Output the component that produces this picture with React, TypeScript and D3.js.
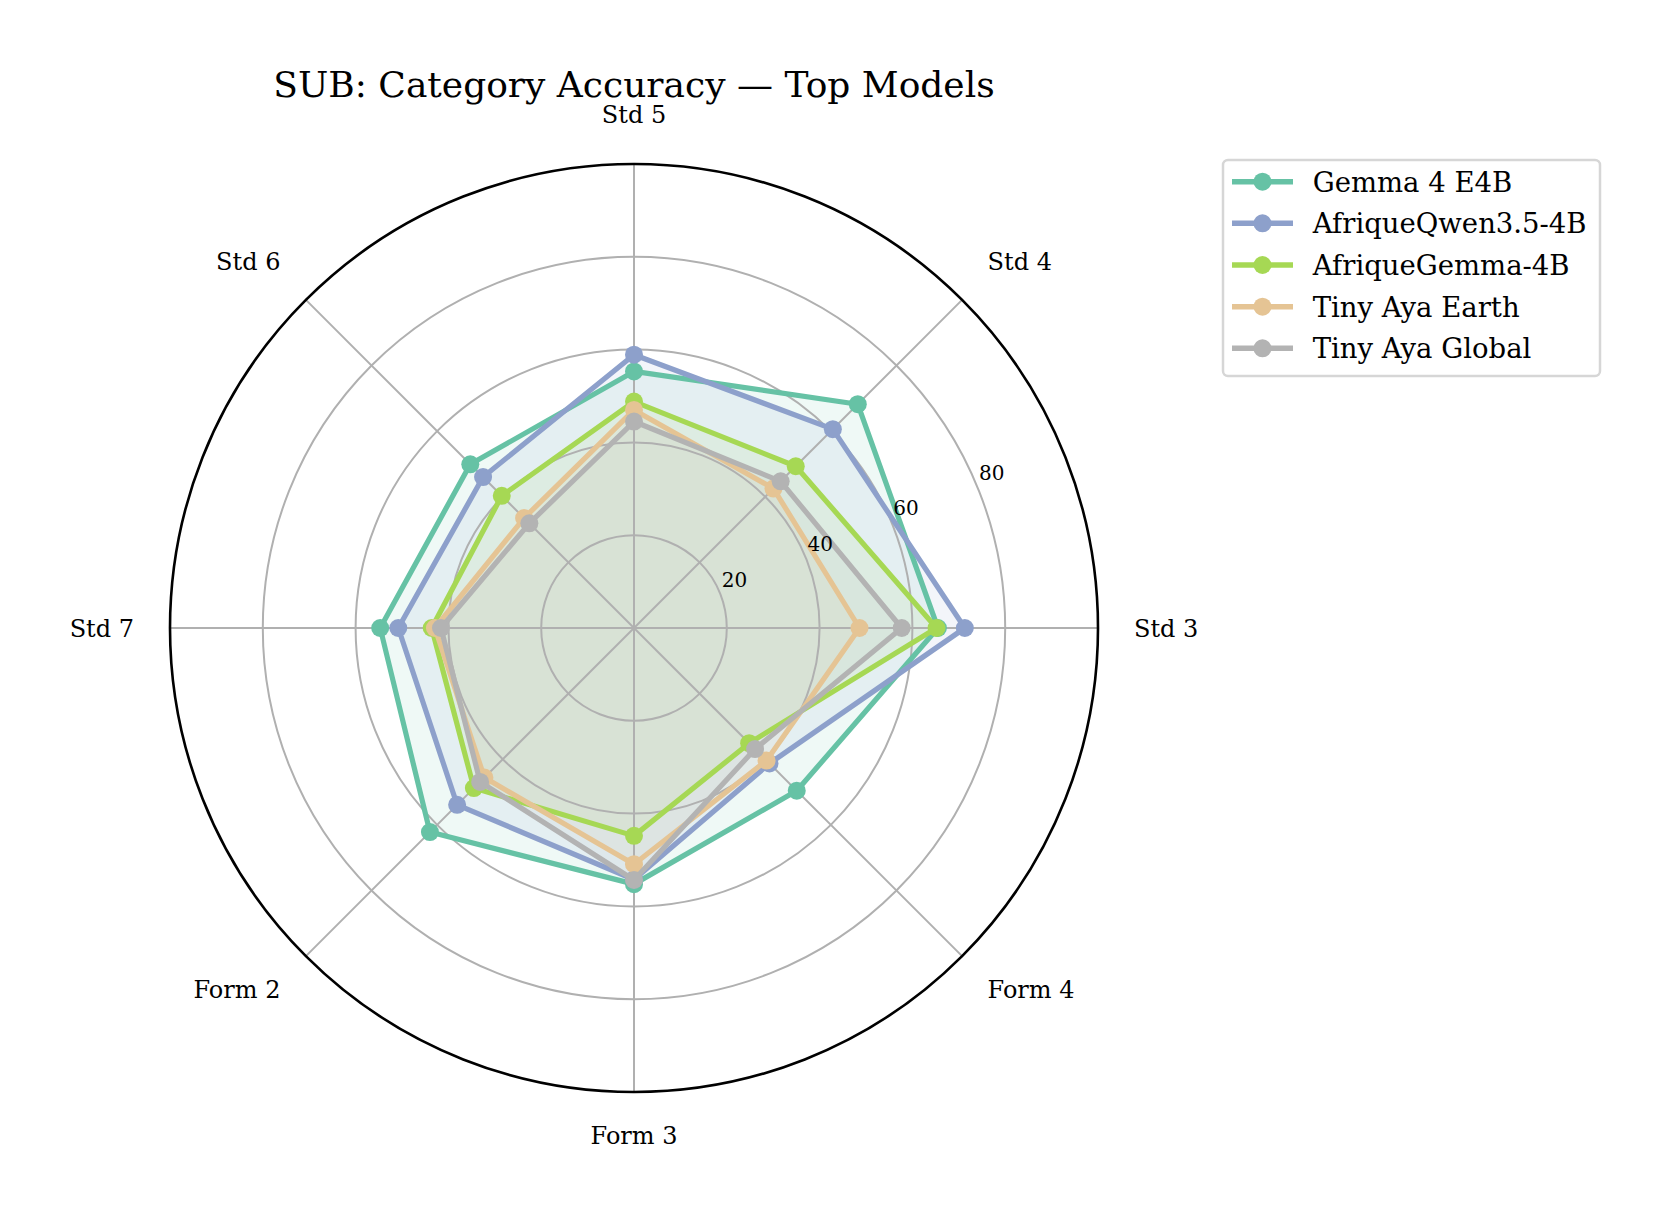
import * as d3 from "d3";

const categories = ["Std 3", "Std 4", "Std 5", "Std 6", "Std 7", "Form 2", "Form 3", "Form 4"];
const models = ["Gemma 4 E4B", "AfriqueQwen3.5-4B", "AfriqueGemma-4B", "Tiny Aya Earth", "Tiny Aya Global"];
const colors = ["#66c2a5", "#8da0cb", "#a6d854", "#e5c494", "#b3b3b3"];

const gemma = [65.5, 68.2, 55.3, 49.9, 54.7, 62.2, 55.2, 49.6];
const afriqueQwen = [71.3, 60.6, 58.9, 46.0, 50.8, 53.9, 54.2, 41.3];
const afriqueGemma = [65.2, 49.3, 48.8, 40.3, 43.6, 48.8, 44.8, 35.1];
const ayaEarth = [48.6, 42.5, 47.0, 33.5, 42.9, 45.6, 50.9, 40.4];
const ayaGlobal = [57.7, 44.7, 44.5, 31.9, 41.6, 46.9, 54.3, 36.9];

const series = [gemma, afriqueQwen, afriqueGemma, ayaEarth, ayaGlobal];
const rTicks = [20, 40, 60, 80];

const W = 1671;
const H = 1221;
const cx = 634;
const cy = 628;
const R = 464;
const font = "'DejaVu Serif', serif";

export default function App() {
  const r = d3.scaleLinear().domain([0, 100]).range([0, R]);
  // east first, counter-clockwise (lineRadial angles run clockwise from north)
  const angle = d3
    .scaleLinear()
    .domain([0, categories.length])
    .range([Math.PI / 2, Math.PI / 2 - 2 * Math.PI]);

  const radial = d3
    .lineRadial<number>()
    .angle((_, i) => angle(i))
    .radius((d) => r(d))
    .curve(d3.curveLinearClosed);

  const pt = (i: number, v: number) => {
    const a = angle(i);
    return [r(v) * Math.sin(a), -r(v) * Math.cos(a)];
  };

  const rlAngle = Math.PI / 8;

  return (
    <svg
      width={W}
      height={H}
      style={{ position: "absolute", left: 0, top: 0, background: "#fff" }}
      fontFamily={font}
    >
      <text x={cx} y={97} textAnchor="middle" fontSize={36} fill="#000">
        SUB: Category Accuracy — Top Models
      </text>

      <g transform={`translate(${cx},${cy})`}>
        {/* fills */}
        {series.map((s, k) => (
          <path key={"f" + k} d={radial(s) ?? ""} fill={colors[k]} fillOpacity={0.1} stroke="none" />
        ))}

        {/* grid */}
        {rTicks.map((t) => (
          <circle key={t} r={r(t)} fill="none" stroke="#b0b0b0" strokeWidth={2} />
        ))}
        {categories.map((c, i) => {
          const [x, y] = pt(i, 100);
          return <line key={c} x1={0} y1={0} x2={x} y2={y} stroke="#b0b0b0" strokeWidth={2} />;
        })}

        {/* lines + markers */}
        {series.map((s, k) => (
          <g key={"l" + k}>
            <path
              d={radial(s) ?? ""}
              fill="none"
              stroke={colors[k]}
              strokeWidth={5.2}
              strokeLinejoin="round"
            />
            {s.map((v, i) => {
              const [x, y] = pt(i, v);
              return <circle key={i} cx={x} cy={y} r={9} fill={colors[k]} />;
            })}
          </g>
        ))}

        <circle r={R} fill="none" stroke="#000" strokeWidth={2.6} />

        {/* radial tick labels */}
        {rTicks.map((t) => (
          <text
            key={"rt" + t}
            x={r(t) * Math.cos(rlAngle) + 2}
            y={-r(t) * Math.sin(rlAngle) - 6}
            fontSize={20}
            fill="#000"
          >
            {t}
          </text>
        ))}

        {/* category labels */}
        {categories.map((c, i) => {
          const th = (i * 2 * Math.PI) / categories.length;
          const co = Math.cos(th);
          const si = Math.sin(th);
          const x = 500 * co;
          const y = -500 * si;
          const anchor = co > 0.01 ? "start" : co < -0.01 ? "end" : "middle";
          const dy = si > 0.01 ? "-0.2em" : si < -0.01 ? "0.68em" : "0.36em";
          return (
            <text key={c} x={x} y={y} dy={dy} textAnchor={anchor} fontSize={24} fill="#000">
              {c}
            </text>
          );
        })}
      </g>

      {/* legend */}
      <g transform="translate(1223,160)">
        <rect
          x={0}
          y={0}
          width={377}
          height={216}
          rx={5}
          fill="#fff"
          fillOpacity={0.8}
          stroke="#d6d6d6"
          strokeWidth={2.5}
        />
        {models.map((m, k) => {
          const y = 21.7 + k * 41.65;
          return (
            <g key={m} transform={`translate(0,${y})`}>
              <line x1={9} x2={70} y1={0} y2={0} stroke={colors[k]} strokeWidth={5.5} />
              <circle cx={39.5} cy={0} r={9} fill={colors[k]} />
              <text x={89.7} y={0} dy="0.36em" fontSize={27.5} fill="#000">
                {m}
              </text>
            </g>
          );
        })}
      </g>
    </svg>
  );
}
